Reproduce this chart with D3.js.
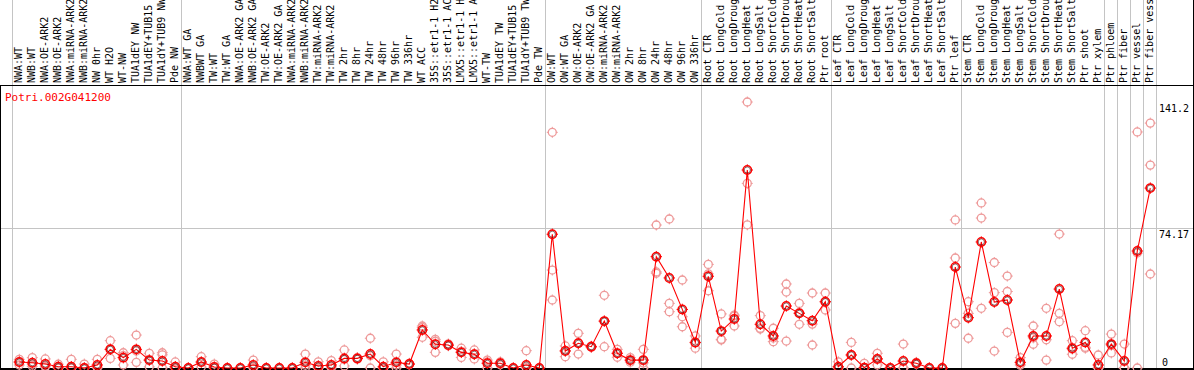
<!DOCTYPE html>
<html><head><meta charset="utf-8">
<script src="https://cdn.jsdelivr.net/npm/d3@7"></script>
<style>body{margin:0;background:#fff}svg{display:block}</style>
</head><body>
<script>
const categories = ["NWA:WT","NWB:WT","NWA:OE-ARK2","NWB:OE-ARK2","NWA:miRNA-ARK2","NWB:miRNA-ARK2","NW 0hr","WT H2O","WT-NW","TUA1dEY NW","TUA1dEY+TUB15 NW","TUA1dY+TUB9 NW","Pde NW",
"NWA:WT GA","NWBWT GA","TW:WT","TW:WT GA","NWA:OE-ARK2 GA","NWB:OE-ARK2 GA","TW:OE-ARK2","TW:OE-ARK2 GA","NWA:miRNA-ARK2","NWB:miRNA-ARK2","TW:miRNA-ARK2","TW:miRNA-ARK2","TW 2hr","TW 8hr","TW 24hr","TW 48hr","TW 96hr","TW 336hr","WT ACC","35S::etr1-1 H2O","35S::etr1-1 ACC","LMX5::etr1-1 H2O","LMX5::etr1-1 ACC","WT-TW","TUA1dEY TW","TUA1dEY+TUB15 TW","TUA1dY+TUB9 TW","Pde TW",
"OW:WT","OW:WT GA","OW:OE-ARK2","OW:OE-ARK2 GA","OW:miRNA-ARK2","OW:miRNA-ARK2","OW 2hr","OW 8hr","OW 24hr","OW 48hr","OW 96hr","OW 336hr",
"Root CTR","Root LongCold","Root LongDrought","Root LongHeat","Root LongSalt","Root ShortCold","Root ShortDrought","Root ShortHeat","Root ShortSalt","Ptr root",
"Leaf CTR","Leaf LongCold","Leaf LongDrought","Leaf LongHeat","Leaf LongSalt","Leaf ShortCold","Leaf ShortDrought","Leaf ShortHeat","Leaf ShortSalt","Ptr leaf",
"Stem CTR","Stem LongCold","Stem LongDrought","Stem LongHeat","Stem LongSalt","Stem ShortCold","Stem ShortDrought","Stem ShortHeat","Stem ShortSalt","Ptr shoot","Ptr xylem","Ptr phloem","Ptr fiber","Ptr vessel","Ptr fiber vessel"];

const means = [3.2,2.8,2.1,0.7,0.7,0,1.6,9.9,5.5,9.9,4.2,3.7,0.7,
0,3.2,0.5,0,0,1.6,0,0,0,3.0,1.1,1.6,5.1,5.1,7.4,0.7,3.0,2.1,20.2,12.6,12.2,8.3,7.3,2.5,2.5,0,1.6,0,
71.0,9.0,13.1,11.3,24.9,7.8,4.2,4.2,59.1,47.8,31.1,13.6,
48.7,19.6,26.0,105.1,23.2,17.0,32.9,29.0,25.1,35.2,
0.7,6.9,0.2,4.8,0,3.7,2.5,0,0,53.6,
26.7,66.9,35.0,36.1,3.0,17.0,17.0,41.9,10.5,13.6,1.6,12.7,3.7,62.1,95.5];

const replicates = [[4.6,3.0,1.6],[5.5,2.0,0.9],[4.8,1.0,0.5],[2.0,0,0],[4.6,0,0],[2.1,0,0],[4.6,0.5,0],[14.5,10,5.1],[8.1,6.5,1.6],[17.5,9,3.0],[7.8,4.2,0.6],[8.1,7.0,0],[3.2,0,0],
[0,0],[6.0,3.0,0.5],[2.1,0,0],[0],[0],[4.2,0.5,0],[0],[0],[0],[7.4,1.5,0],[3.3,0,0],[3.9,0.8,0],[9.6,4.5,1.1],[5.1,5.5,4.7],[15.8,6.5,0],[3.3,0,0],[7.4,1.6,0],[2.5,2.0,1.8],[22.3,21.5,16.3],[15.2,14.2,8.3],[12.8,12.0,11.8],[10.5,8.8,5.6],[9.6,7.5,4.8],[4.2,3.2,0],[3.3,2.5,1.7],[0],[9.2,0,0],[0],
[125.1,52.0,36.1],[11.7,9.3,6.0],[18.4,13.5,7.4],[11.6,11.3,11.0],[38.6,24.8,11.3],[9.9,7.8,5.7],[5.5,4.0,3.1],[9.9,2.7,0],[75.9,51.0,50.3],[79.1,34.3,29.9],[46.7,27.2,21.9],[17.0,13.3,10.5],
[55,50,41],[28.7,15.2,14.9],[28.1,27.6,22.3],[141.2,98,76],[27.8,21.1,20.7],[21.1,15.9,14.0],[44.6,40.3,14.3],[34.3,29.5,23.2],[39.8,23.3,12.2],[39.8,35,30.8],
[3.3,0,0],[13.6,7,0],[2.5,0,0],[7.8,5,1.6],[0],[12.7,0,0],[3.0,2.5,2.0],[0],[0],[78.6,58.4,23.7],
[35.2,29.0,15.8],[87.6,79.6,31.7],[56,40,9],[48.8,40.6,18.9],[5.5,2.0,1.5],[22.3,16.0,12.6],[31.7,15,4.2],[71.1,29.0,24.6],[14.5,10,7.3],[19.8,11,10.5],[6.9,0,0],[18.0,12,8],[12.7,0,0],[125.3,61,0],[130.0,107.7,49.9]];

// group separators: index after which a vertical gridline is drawn (-1 = before first)
const separators = [-1,12,40,52,62,72,83,84,85,86,87];
const yTicks = [0,74.17,141.2];
const geneId = "Potri.002G041200";

const W = 1194, H = 370;
const svg = d3.select("body").append("svg").attr("width", W).attr("height", H);

const x = d3.scalePoint().domain(d3.range(categories.length)).range([19.3, 19.3 + 13 * (categories.length - 1)]);
const step = x.step();
const y = d3.scaleLinear().domain([0, 141.2]).range([368, 102]);

const FONT = "'DejaVu Sans Mono', monospace";

// vertical group gridlines
svg.append("g").selectAll("line").data(separators).join("line")
  .attr("x1", d => x(0) + (d + 0.5) * step).attr("x2", d => x(0) + (d + 0.5) * step)
  .attr("y1", 0).attr("y2", 369)
  .attr("stroke", "#c4c4c4").attr("stroke-width", 1).attr("shape-rendering", "crispEdges");

// horizontal gridline at middle tick
svg.append("line").attr("x1", 0).attr("x2", 1193).attr("y1", Math.round(y(74.17)) + 0.5).attr("y2", Math.round(y(74.17)) + 0.5)
  .attr("stroke", "#c4c4c4").attr("shape-rendering", "crispEdges");

// frame
const frame = svg.append("g").attr("stroke", "#000").attr("shape-rendering", "crispEdges");
frame.append("line").attr("x1", 0).attr("x2", 1194).attr("y1", 85.5).attr("y2", 85.5);
frame.append("line").attr("x1", 0).attr("x2", 1194).attr("y1", 368.5).attr("y2", 368.5).attr("stroke-width", 2);
frame.append("line").attr("x1", 0.5).attr("x2", 0.5).attr("y1", 85).attr("y2", 370);
frame.append("line").attr("x1", 1193.5).attr("x2", 1193.5).attr("y1", 0).attr("y2", 370);

// category labels (rotated)
svg.append("g").selectAll("text").data(categories).join("text")
  .attr("transform", (d, i) => `translate(${x(i) + 2.5},83) rotate(-90)`)
  .attr("text-anchor", "start")
  .attr("font-family", FONT).attr("font-size", 10).attr("fill", "#000")
  .text(d => d);

// y tick labels on right
svg.append("g").selectAll("text").data(yTicks).join("text")
  .attr("x", d => d === 0 ? 1162 : 1159)
  .attr("y", d => Math.min(y(d) + 10, 366))
  .attr("font-family", FONT).attr("font-size", 10).attr("fill", "#000")
  .text(d => d);

// gene id
svg.append("text").attr("x", 5).attr("y", 101).attr("font-family", FONT).attr("font-size", 11)
  .attr("fill", "#ff0000").text(geneId);

function marker(g, color, r, w) {
  g.append("circle").attr("r", r).attr("fill", "none").attr("stroke", color).attr("stroke-width", w);
  g.append("path").attr("d", `M0,${-r-1.5}V${-r+0.5}M0,${r-0.5}V${r+1.5}M${-r-1.5},0H${-r+0.5}M${r-0.5},0H${r+1.5}`)
    .attr("stroke", color).attr("stroke-width", 1);
}

// replicates
const repData = [];
replicates.forEach((arr, i) => arr.forEach(v => repData.push({i, v})));
svg.append("g").selectAll("g").data(repData).join("g")
  .attr("transform", d => `translate(${x(d.i)},${y(d.v)})`)
  .each(function() { marker(d3.select(this), "#ee9a9a", 4, 1.3); });

// mean line
svg.append("path").datum(means)
  .attr("d", d3.line().x((d, i) => x(i)).y(d => y(d)))
  .attr("fill", "none").attr("stroke", "#ff0000").attr("stroke-width", 1.1);

// mean markers
const mg = svg.append("g").selectAll("g").data(means).join("g")
  .attr("transform", (d, i) => `translate(${x(i)},${y(d)})`);
mg.each(function() {
  const g = d3.select(this);
  marker(g, "#ff0000", 4.2, 1.5);
  g.append("circle").attr("r", 3.1).attr("fill", "none").attr("stroke", "#400000").attr("stroke-width", 0.6);
});
</script>
</body></html>
